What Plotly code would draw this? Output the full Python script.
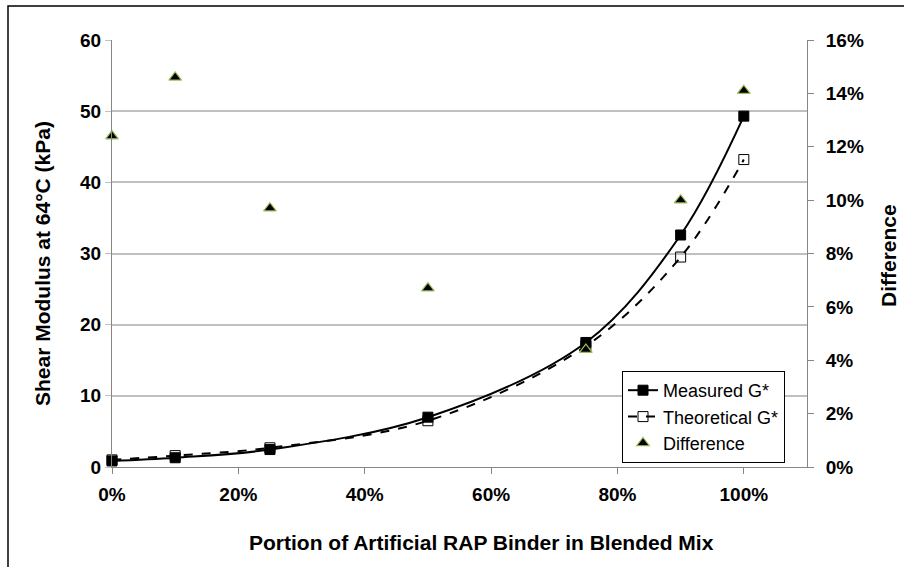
import plotly.graph_objects as go

# Data
portion = [0.0, 0.10, 0.25, 0.50, 0.75, 0.90, 1.00]
measured_g = [0.85, 1.3, 2.45, 7.0, 17.5, 32.6, 49.3]
theoretical_g = [1.0, 1.6, 2.7, 6.5, 17.0, 29.5, 43.2]
difference = [0.124, 0.146, 0.097, 0.067, 0.044, 0.100, 0.141]

x_ticks = [0, 0.2, 0.4, 0.6, 0.8, 1.0]
x_tick_text = ["0%", "20%", "40%", "60%", "80%", "100%"]
y_ticks = [0, 10, 20, 30, 40, 50, 60]
y2_ticks = [0, 0.02, 0.04, 0.06, 0.08, 0.10, 0.12, 0.14, 0.16]
y2_tick_text = ["0%", "2%", "4%", "6%", "8%", "10%", "12%", "14%", "16%"]

x_title = "Portion of Artificial RAP Binder in Blended Mix"
y_title = "Shear Modulus at 64°C (kPa)"
y2_title = "Difference"

FONT = "Liberation Sans, Arial, sans-serif"
TICK = 19
TITLE = 21

fig = go.Figure()
fig.add_trace(go.Scatter(
    x=portion, y=measured_g, name="Measured G*",
    mode="lines+markers", cliponaxis=False,
    line=dict(color="black", width=2, shape="spline", smoothing=1),
    marker=dict(symbol="square", size=10, color="black", line=dict(color="black", width=1)),
))
fig.add_trace(go.Scatter(
    x=portion, y=theoretical_g, name="Theoretical G*",
    mode="lines+markers", cliponaxis=False,
    line=dict(color="black", width=2, dash="dash", shape="spline", smoothing=1),
    marker=dict(symbol="square-open", size=10, color="black", line=dict(color="black", width=1)),
))
fig.add_trace(go.Scatter(
    x=portion, y=difference, name="Difference",
    mode="markers", yaxis="y2", cliponaxis=False,
    marker=dict(symbol="triangle-up", size=11, color="black", line=dict(color="#9BBB59", width=1.2)),
))

W, H = 904, 567
L, R, T, B = 112, 807, 40, 467
pw, ph = R - L, B - T

def px(xp):
    return (xp - L) / pw

def py(yp):
    return (B - yp) / ph

title_font = dict(family=FONT, size=TITLE, color="black", weight="bold")

fig.update_layout(
    width=W, height=H,
    margin=dict(l=L, r=W - R, t=T, b=H - B, pad=0),
    paper_bgcolor="white", plot_bgcolor="white",
    font=dict(family=FONT, color="black"),
    showlegend=True,
    legend=dict(
        x=px(622), y=py(371), xanchor="left", yanchor="top",
        bgcolor="white", bordercolor="black", borderwidth=1,
        font=dict(family=FONT, size=18, color="black"),
        tracegroupgap=0,
    ),
    xaxis=dict(
        range=[0, 1.1], tickvals=x_ticks, ticktext=x_tick_text,
        showgrid=False, zeroline=False,
        showline=True, linecolor="#868686", linewidth=1,
        ticks="outside", ticklen=6, tickcolor="#868686",
        ticklabelstandoff=4,
        tickfont=dict(family=FONT, size=TICK, color="black", weight="bold"),
    ),
    yaxis=dict(
        range=[0, 60], tickvals=y_ticks,
        showgrid=True, gridcolor="#C0C0C0", gridwidth=2, zeroline=False,
        showline=True, linecolor="#868686", linewidth=1,
        ticks="outside", ticklen=6, tickcolor="#C0C0C0",
        tickfont=dict(family=FONT, size=TICK, color="black", weight="bold"),
    ),
    yaxis2=dict(
        range=[0, 0.16], tickvals=y2_ticks, ticktext=y2_tick_text,
        overlaying="y", side="right",
        showgrid=False, zeroline=False,
        showline=True, linecolor="#868686", linewidth=1,
        ticks="outside", ticklen=6, tickcolor="#868686",
        tickfont=dict(family=FONT, size=TICK, color="black", weight="bold"),
        ticklabelstandoff=8,
    ),
    annotations=[
        dict(text=x_title, xref="paper", yref="paper", x=px(481), y=py(542),
             xanchor="center", yanchor="middle", showarrow=False, font=title_font),
        dict(text=y_title, xref="paper", yref="paper", x=px(42), y=py(264),
             xanchor="center", yanchor="middle", showarrow=False, textangle=-90, font=title_font),
        dict(text=y2_title, xref="paper", yref="paper", x=px(888), y=py(256),
             xanchor="center", yanchor="middle", showarrow=False, textangle=-90, font=title_font),
    ],
    shapes=[dict(
        type="rect", xref="paper", yref="paper",
        x0=px(8), x1=px(920), y0=py(590), y1=py(6),
        line=dict(color="black", width=1.5), fillcolor="rgba(0,0,0,0)", layer="below",
    )],
)

fig.write_html("out.html")
